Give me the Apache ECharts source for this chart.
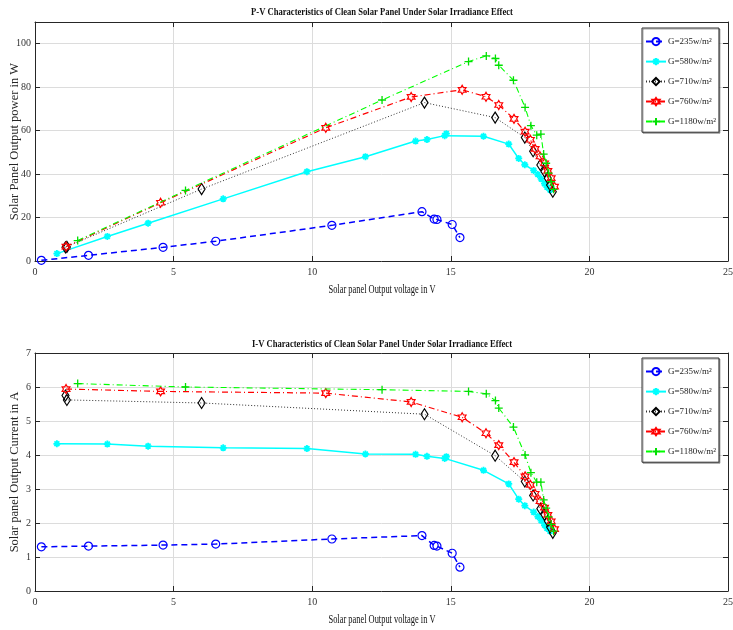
<!DOCTYPE html>
<html>
<head>
<meta charset="utf-8">
<script src="https://cdn.jsdelivr.net/npm/echarts@6/dist/echarts.min.js"></script>
<style>html,body{margin:0;padding:0;background:#fff}#c{width:733px;height:630px}</style>
</head>
<body>
<div id="c"></div>
<script>
// ---- data ----
const seriesNames = ['G=235w/m\u00b2', 'G=580w/m\u00b2', 'G=710w/m\u00b2', 'G=760w/m\u00b2', 'G=1180w/m\u00b2'];
const xTicks = [0, 5, 10, 15, 20, 25];

const vG235 = [0.23, 1.93, 4.62, 6.52, 10.71, 13.96, 14.40, 14.50, 15.05, 15.33];
const pG235 = [0.3, 2.6, 6.3, 9.1, 16.4, 22.7, 19.3, 19.1, 16.8, 10.8];
const iG235 = [1.30, 1.32, 1.35, 1.38, 1.53, 1.63, 1.34, 1.32, 1.11, 0.70];

const vG580 = [0.79, 2.61, 4.08, 6.79, 9.81, 11.92, 13.73, 14.14, 14.78, 14.84, 16.18, 17.09, 17.45, 17.67, 17.99, 18.14, 18.26, 18.38, 18.47, 18.58];
const pG580 = [3.4, 11.3, 17.4, 28.6, 41.1, 48.0, 55.2, 55.9, 57.7, 58.6, 57.4, 53.8, 47.2, 44.3, 41.7, 39.8, 37.8, 35.6, 34.0, 32.7];
const iG580 = [4.33, 4.32, 4.26, 4.21, 4.19, 4.03, 4.02, 3.96, 3.90, 3.95, 3.55, 3.15, 2.70, 2.51, 2.32, 2.19, 2.07, 1.94, 1.84, 1.76];

const vG710 = [1.10, 1.15, 6.01, 14.05, 16.60, 17.67, 17.97, 18.23, 18.38, 18.50, 18.58, 18.68];
const pG710 = [6.3, 6.5, 33.1, 72.9, 66.0, 56.8, 50.5, 44.2, 41.2, 38.1, 35.0, 31.9];
const iG710 = [5.75, 5.62, 5.53, 5.20, 3.98, 3.22, 2.81, 2.42, 2.24, 2.06, 1.88, 1.71];

const vG760 = [1.12, 4.53, 10.49, 13.57, 15.41, 16.27, 16.73, 17.28, 17.68, 17.87, 18.04, 18.22, 18.38, 18.50, 18.62, 18.74];
const pG760 = [6.6, 26.8, 61.3, 75.5, 78.8, 75.6, 71.8, 65.4, 59.5, 55.8, 51.6, 48.1, 45.0, 41.5, 38.1, 34.2];
const iG760 = [5.94, 5.87, 5.82, 5.56, 5.11, 4.64, 4.29, 3.79, 3.37, 3.12, 2.86, 2.64, 2.45, 2.24, 2.05, 1.82];

const vG1180 = [1.54, 5.43, 12.52, 15.64, 16.28, 16.61, 16.73, 17.26, 17.68, 17.89, 18.10, 18.25, 18.35, 18.44, 18.53, 18.62, 18.71];
const pG1180 = [9.4, 32.5, 74.1, 91.8, 94.4, 93.2, 90.1, 83.2, 70.7, 62.3, 57.9, 58.4, 49.2, 45.0, 40.4, 36.5, 33.0];
const iG1180 = [6.10, 6.00, 5.92, 5.87, 5.80, 5.60, 5.38, 4.82, 4.00, 3.48, 3.20, 3.20, 2.68, 2.44, 2.18, 1.96, 1.76];

// ---- styles ----
const SERIF = 'Liberation Serif';
const asterisk = 'path://M0,-1L0,1M-1,0L1,0M-0.7,-0.7L0.7,0.7M-0.7,0.7L0.7,-0.7';
const plus = 'path://M0,-1L0,1M-1,0L1,0';
const hexagram = 'path://M0,-1L0.289,-0.5L0.866,-0.5L0.577,0L0.866,0.5L0.289,0.5L0,1L-0.289,0.5L-0.866,0.5L-0.577,0L-0.866,-0.5L-0.289,-0.5Z';
const T = 'rgba(0,0,0,0)';
const styles = [
  {color:'#0000ff', line:{type:[6,4], width:1.5}, symbol:'circle', size:8, item:{color:T, borderColor:'#0000ff', borderWidth:1.2}},
  {color:'#00ffff', line:{type:'solid', width:1.5}, symbol:asterisk, size:7, item:{color:'#00ffff', borderColor:'#00ffff', borderWidth:1.8}},
  {color:'#333333', line:{type:[1,2], width:1}, symbol:'diamond', size:[7,11], item:{color:T, borderColor:'#000000', borderWidth:1.2}},
  {color:'#ff0000', line:{type:[6,3,1,3], width:1.2}, symbol:hexagram, size:9, item:{color:T, borderColor:'#ff0000', borderWidth:1.2}},
  {color:'#00ff00', line:{type:[6,3,1,3], width:1.1}, symbol:plus, size:8, item:{color:'#00e000', borderColor:'#00e000', borderWidth:1.3}}
];
const vs = [vG235, vG580, vG710, vG760, vG1180];
const ps = [pG235, pG580, pG710, pG760, pG1180];
const is = [iG235, iG580, iG710, iG760, iG1180];

function mkSeries(k, xs, ys, axisIdx) {
  const s = styles[k];
  return {
    name: seriesNames[k], type: 'line',
    xAxisIndex: axisIdx, yAxisIndex: axisIdx,
    data: xs.map((x, i) => [x, ys[i]]),
    symbol: s.symbol, symbolSize: s.size, symbolKeepAspect: true,
    lineStyle: Object.assign({color: s.color}, s.line),
    itemStyle: s.item,
    emphasis: {disabled: true},
    z: 2 + k
  };
}

const series = [];
for (let k = 0; k < 5; k++) series.push(mkSeries(k, vs[k], ps[k], 0));
for (let k = 0; k < 5; k++) series.push(mkSeries(k, vs[k], is[k], 2));

const axisCol = '#262626';
const gridCol = '#dcdcdc';
function xMain(gi) {
  return {type:'value', gridIndex:gi, min:xTicks[0], max:xTicks[xTicks.length-1], interval:5, position:'bottom',
    axisLine:{show:true, onZero:false, lineStyle:{color:axisCol}},
    axisTick:{show:true, inside:true, length:5, lineStyle:{color:axisCol}},
    axisLabel:{color:'#333', fontFamily:SERIF, fontSize:10, margin:6},
    splitLine:{show:true, lineStyle:{color:gridCol}}};
}
function xTop(gi) {
  return {type:'value', gridIndex:gi, min:0, max:25, interval:5, position:'top',
    axisLine:{show:true, onZero:false, lineStyle:{color:axisCol}},
    axisTick:{show:true, inside:true, length:5, lineStyle:{color:axisCol}},
    axisLabel:{show:false}, splitLine:{show:false}};
}
function yMain(gi, max, interval, name, showMax) {
  return {type:'value', gridIndex:gi, min:0, max:max, interval:interval, position:'left',
    name:name, nameLocation:'middle', nameGap:14, nameMoveOverlap:false,
    nameTextStyle:{fontFamily:SERIF, fontSize:12.5, color:axisCol},
    axisLine:{show:true, onZero:false, lineStyle:{color:axisCol}},
    axisTick:{show:true, inside:true, length:5, lineStyle:{color:axisCol}},
    axisLabel:{color:'#333', fontFamily:SERIF, fontSize:10, margin:4, showMaxLabel:showMax},
    splitLine:{show:true, lineStyle:{color:gridCol}}};
}
function yRight(gi, max, interval) {
  return {type:'value', gridIndex:gi, min:0, max:max, interval:interval, position:'right',
    axisLine:{show:true, onZero:false, lineStyle:{color:axisCol}},
    axisTick:{show:true, inside:true, length:5, lineStyle:{color:axisCol}},
    axisLabel:{show:false}, splitLine:{show:false}};
}
function legend(top) {
  return {data: seriesNames, orient:'vertical', left:642, top:top,
    padding:[9,3,6,3], itemGap:10.8, itemWidth:20, itemHeight:9,
    backgroundColor:'#fff', borderColor:'#333', borderWidth:1,
    shadowColor:'rgba(0,0,0,0.35)', shadowOffsetX:1, shadowOffsetY:1, shadowBlur:0,
    textStyle:{fontFamily:SERIF, fontSize:9, color:'#222', padding:[0,0,0,-3]},
    selectedMode:false};
}
function gText(text, x, y, size, bold, sx) {
  return {type:'text', x:x, y:y, scaleX:sx, silent:true,
    style:{text:text, fill:'#111', font:(bold?'bold ':'') + size + 'px "' + SERIF + '"', align:'center', verticalAlign:'middle'}};
}

const chart = echarts.init(document.getElementById('c'), null, {renderer:'canvas'});
chart.setOption({
  animation:false,
  backgroundColor:'#fff',
  grid:[
    {left:35, top:22, width:693, height:239, show:false, containLabel:false, outerBoundsMode:'none'},
    {left:35, top:353, width:693, height:238, show:false, containLabel:false, outerBoundsMode:'none'}
  ],
  xAxis:[xMain(0), xTop(0), xMain(1), xTop(1)],
  yAxis:[yMain(0, 110, 20, 'Solar Panel Output power in W', false), yRight(0, 110, 20),
         yMain(1, 7, 1, 'Solar panel Output Current in A', true), yRight(1, 7, 1)],
  legend:[legend(28), legend(358)],
  graphic:[
    gText('P-V Characteristics of Clean Solar Panel Under Solar Irradiance Effect', 382, 12, 11, true, 0.78),
    gText('Solar panel Output voltage in V', 382, 290, 12, false, 0.70),
    gText('I-V Characteristics of Clean Solar Panel Under Solar Irradiance Effect', 382, 344, 11, true, 0.78),
    gText('Solar panel Output voltage in V', 382, 620, 12, false, 0.70)
  ],
  series: series
});
</script>
</body>
</html>
